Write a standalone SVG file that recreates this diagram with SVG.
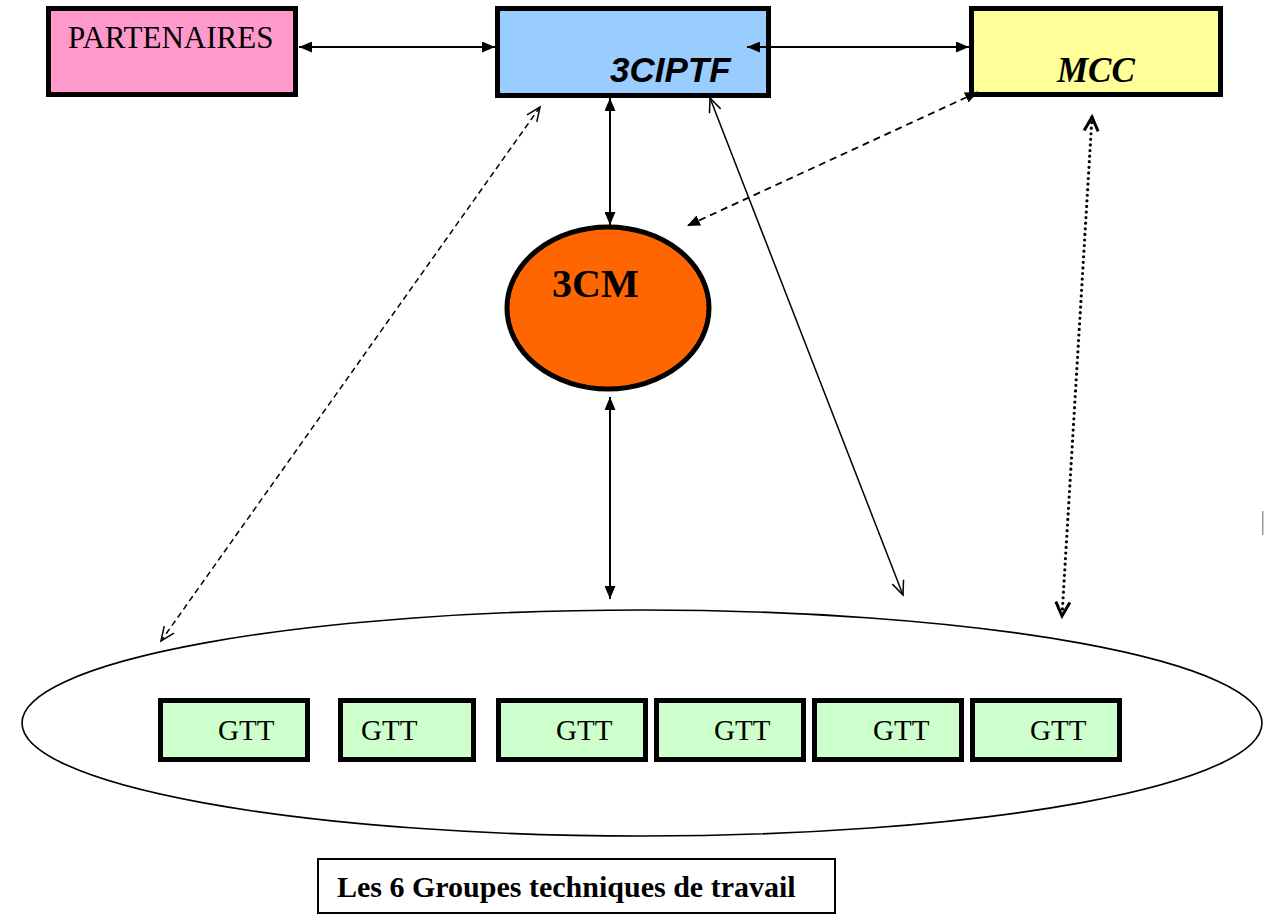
<svg xmlns="http://www.w3.org/2000/svg" width="1264" height="917" viewBox="0 0 1264 917">
<style>
.box{stroke:#000;stroke-width:5}
.gtt{fill:#CCFFCC;stroke:#000;stroke-width:5}
.t{font-family:"Liberation Serif","Times New Roman",serif;fill:#000}
.s{font-family:"Liberation Sans",Arial,sans-serif;fill:#000}
.c{stroke:#000;fill:none}
</style>
<defs>
<marker id="fa" viewBox="0 0 13 11" refX="13" refY="5.5" markerWidth="13" markerHeight="11" markerUnits="userSpaceOnUse" orient="auto-start-reverse"><path d="M0,0 L13,5.5 L0,11 z" fill="#000"/></marker>
<marker id="oa" viewBox="-1 -1 16 14" refX="14" refY="6" markerWidth="16" markerHeight="14" markerUnits="userSpaceOnUse" orient="auto-start-reverse" overflow="visible"><path d="M0,0 L14,6 L0,12" fill="none" stroke="#000" stroke-width="1.5"/></marker>
<marker id="da" viewBox="-2 -2 18 18" refX="14" refY="7" markerWidth="18" markerHeight="18" markerUnits="userSpaceOnUse" orient="auto-start-reverse" overflow="visible"><path d="M0,0 L14,7 L0,14" fill="none" stroke="#000" stroke-width="3"/></marker>
</defs>
<rect width="1264" height="917" fill="#fff"/>
<g id="groupe">
<ellipse cx="642" cy="723" rx="620" ry="113" fill="none" stroke="#000" stroke-width="1.6"/>
</g>
<g id="partenaires">
<rect class="box" x="48.5" y="8.5" width="247" height="86" fill="#FF99CC"/>
<text class="t" x="68" y="48" font-size="31">PARTENAIRES</text>
</g>
<g id="n3ciptf">
<rect class="box" x="497.5" y="8.5" width="271" height="87" fill="#99CCFF"/>
<text class="s" x="610" y="82" font-size="35" font-weight="bold" font-style="italic">3CIPTF</text>
</g>
<g id="mcc">
<rect class="box" x="971.5" y="8.5" width="249" height="86" fill="#FFFF99"/>
<text class="t" x="1057" y="82" font-size="35" font-weight="bold" font-style="italic">MCC</text>
</g>
<g id="n3cm">
<ellipse cx="608" cy="308" rx="101" ry="81" fill="#FF6600" stroke="#000" stroke-width="5"/>
<text class="t" x="552" y="297" font-size="40" font-weight="bold">3CM</text>
</g>
<g id="gtt1"><rect class="gtt" x="160.5" y="700.5" width="147" height="59"/><text class="t" x="218" y="740" font-size="29">GTT</text></g>
<g id="gtt2"><rect class="gtt" x="340.5" y="700.5" width="133" height="59"/><text class="t" x="361" y="740" font-size="29">GTT</text></g>
<g id="gtt3"><rect class="gtt" x="498.5" y="700.5" width="147" height="59"/><text class="t" x="556" y="740" font-size="29">GTT</text></g>
<g id="gtt4"><rect class="gtt" x="656.5" y="700.5" width="147" height="59"/><text class="t" x="714" y="740" font-size="29">GTT</text></g>
<g id="gtt5"><rect class="gtt" x="814.5" y="700.5" width="147" height="59"/><text class="t" x="873" y="740" font-size="29">GTT</text></g>
<g id="gtt6"><rect class="gtt" x="972.5" y="700.5" width="147" height="59"/><text class="t" x="1030" y="740" font-size="29">GTT</text></g>
<g id="legende">
<rect x="318" y="859" width="517" height="54" fill="#fff" stroke="#000" stroke-width="2"/>
<text class="t" x="337" y="897" font-size="30" font-weight="bold">Les 6 Groupes techniques de travail</text>
</g>
<g id="connectors">
<line class="c" x1="299" y1="47" x2="495" y2="47" stroke-width="2" marker-start="url(#fa)" marker-end="url(#fa)"/>
<line class="c" x1="747" y1="47" x2="969" y2="47" stroke-width="2" marker-start="url(#fa)" marker-end="url(#fa)"/>
<line class="c" x1="610" y1="98" x2="610" y2="225" stroke-width="2" marker-start="url(#fa)" marker-end="url(#fa)"/>
<line class="c" x1="610" y1="397" x2="610" y2="599" stroke-width="2" marker-start="url(#fa)" marker-end="url(#fa)"/>
<line class="c" x1="978" y1="92" x2="687" y2="226" stroke-width="1.8" stroke-dasharray="7 5" marker-start="url(#fa)" marker-end="url(#fa)"/>
<line class="c" x1="540" y1="107" x2="161" y2="641" stroke-width="1.5" stroke-dasharray="6 4" marker-start="url(#oa)" marker-end="url(#oa)"/>
<line class="c" x1="710" y1="98" x2="903" y2="595" stroke-width="1.5" marker-start="url(#oa)" marker-end="url(#oa)"/>
<line class="c" x1="1092" y1="117" x2="1062" y2="616" stroke-width="3.2" stroke-linecap="round" stroke-dasharray="0 5.6" marker-start="url(#da)" marker-end="url(#da)"/>
</g>
<rect x="1262" y="511" width="1.5" height="24" fill="#999"/>
</svg>
